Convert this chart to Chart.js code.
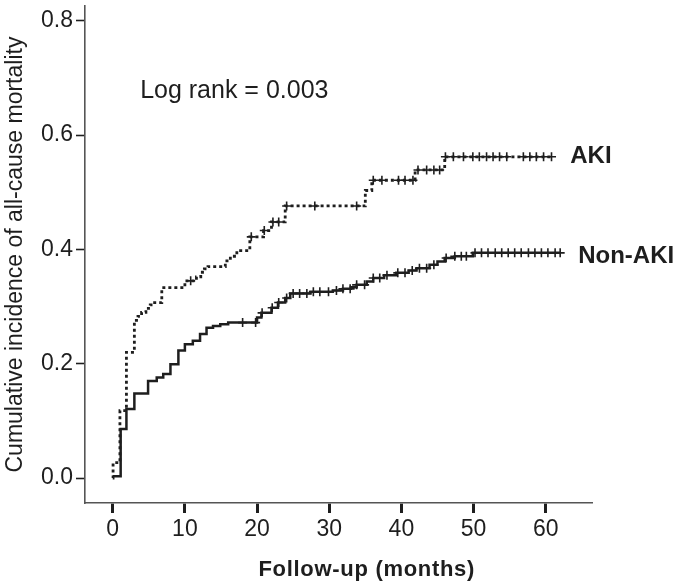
<!DOCTYPE html>
<html>
<head>
<meta charset="utf-8">
<script src="https://cdn.jsdelivr.net/npm/chart.js@4/dist/chart.umd.min.js"></script>
<style>
  html, body { margin: 0; padding: 0; background: #fff; }
</style>
</head>
<body>
<canvas id="km" width="685" height="585"></canvas>
<script>
// tick labels
const X_TICKS = [0, 10, 20, 30, 40, 50, 60];
const Y_TICKS = [0, 0.2, 0.4, 0.6, 0.8];

// AKI: event times (months) and cumulative incidence after each step
const AKI_TIME = [0, 0.05, 1.0, 1.9, 3.0, 3.5, 4.0, 4.6, 5.2, 5.6, 6.8, 10.0, 11.6, 12.2, 12.7, 13.2, 15.6, 16.3, 17.2, 19.0, 20.9, 22.0, 23.9, 35.0, 35.9, 41.9, 46.0, 61.0];
const AKI_CUM  = [0, 0.027, 0.118, 0.220, 0.276, 0.283, 0.290, 0.297, 0.303, 0.307, 0.333, 0.345, 0.352, 0.360, 0.366, 0.370, 0.380, 0.388, 0.398, 0.422, 0.433, 0.448, 0.476, 0.503, 0.521, 0.539, 0.562, 0.562];
const AKI_CENSOR = [10.8, 19.2, 21.0, 22.2, 23.0, 24.1, 28.0, 33.8, 36.1, 37.3, 39.6, 40.5, 41.6, 42.3, 43.5, 44.5, 45.3, 46.1, 47.2, 48.6, 49.9, 50.8, 51.8, 52.7, 53.6, 54.6, 56.9, 57.8, 58.7, 59.7, 60.8];

// Non-AKI
const NON_TIME = [0, 1.1, 1.9, 3.0, 4.9, 6.1, 7.0, 8.0, 9.1, 10.0, 11.1, 12.1, 13.0, 13.9, 14.9, 16.0, 20.0, 20.6, 22.0, 22.9, 23.9, 24.6, 27.4, 30.5, 31.9, 33.0, 33.8, 35.2, 36.1, 37.6, 39.3, 41.0, 42.1, 43.9, 45.0, 46.0, 47.4, 49.9, 62.0];
const NON_CUM  = [0.003, 0.086, 0.121, 0.148, 0.170, 0.176, 0.182, 0.199, 0.223, 0.234, 0.240, 0.252, 0.263, 0.266, 0.269, 0.272, 0.281, 0.289, 0.298, 0.307, 0.315, 0.323, 0.326, 0.328, 0.331, 0.334, 0.338, 0.344, 0.350, 0.355, 0.359, 0.363, 0.367, 0.373, 0.379, 0.385, 0.388, 0.394, 0.394];
const NON_CENSOR = [18.0, 19.8, 20.7, 22.1, 23.0, 24.1, 25.0, 25.9, 26.9, 27.8, 28.7, 29.9, 31.0, 31.9, 32.9, 33.8, 34.9, 36.1, 37.0, 38.0, 39.5, 40.5, 41.5, 42.5, 43.5, 44.5, 46.2, 47.4, 48.3, 49.0, 50.2, 51.1, 52.0, 53.0, 53.9, 54.8, 55.7, 56.6, 57.6, 58.5, 59.4, 60.3, 61.3, 62.0];

const INK = '#1e1e1e';
const FONT = '"Liberation Sans", Arial, sans-serif';

function stepAt(times, vals, t){
  let v = vals[0];
  for (let i = 0; i < times.length; i++) if (times[i] <= t) v = vals[i];
  return v;
}
function curve(times, vals){ return times.map((t, i) => ({ x: t, y: vals[i] })); }
function marks(censor, times, vals){ return censor.map(t => ({ x: t, y: stepAt(times, vals, t) })); }

const texts = {
  id: 'texts',
  afterDraw(chart){
    const { ctx, scales: { x, y } } = chart;
    ctx.save();
    ctx.fillStyle = INK;
    ctx.textBaseline = 'alphabetic';
    ctx.textAlign = 'left';
    ctx.font = `25px ${FONT}`;
    ctx.fillText('Log rank = 0.003', x.getPixelForValue(3.8), y.getPixelForValue(0.665));
    ctx.font = `bold 24px ${FONT}`;
    ctx.fillText('AKI', x.getPixelForValue(63.4), y.getPixelForValue(0.552));
    ctx.fillText('Non-AKI', x.getPixelForValue(64.5), y.getPixelForValue(0.376));
    ctx.font = `bold 22px ${FONT}`;
    ctx.letterSpacing = '0.7px';
    ctx.textAlign = 'center';
    ctx.fillText('Follow-up (months)', x.getPixelForValue(35.2), 576);
    ctx.restore();
  }
};

const tickFont = { family: FONT, size: 23 };

new Chart(document.getElementById('km'), {
  type: 'line',
  data: {
    datasets: [
      {
        label: 'AKI',
        data: curve(AKI_TIME, AKI_CUM),
        stepped: true,
        borderColor: INK,
        borderWidth: 2.8,
        borderDash: [3, 3],
        pointRadius: 0,
        fill: false,
      },
      {
        label: 'Non-AKI',
        data: curve(NON_TIME, NON_CUM),
        stepped: true,
        borderColor: INK,
        borderWidth: 2.5,
        pointRadius: 0,
        fill: false,
      },
      {
        type: 'scatter',
        label: 'AKI censored',
        data: marks(AKI_CENSOR, AKI_TIME, AKI_CUM),
        showLine: false,
        pointStyle: 'cross',
        pointRadius: 4.5,
        borderColor: INK,
        borderWidth: 1.6,
      },
      {
        type: 'scatter',
        label: 'Non-AKI censored',
        data: marks(NON_CENSOR, NON_TIME, NON_CUM),
        showLine: false,
        pointStyle: 'cross',
        pointRadius: 4.5,
        borderColor: INK,
        borderWidth: 1.6,
      },
    ],
  },
  options: {
    responsive: false,
    animation: false,
    devicePixelRatio: 1,
    layout: { padding: { top: 5, right: 93, bottom: 0, left: 0 } },
    plugins: { legend: { display: false }, tooltip: { enabled: false } },
    scales: {
      x: {
        type: 'linear',
        min: -3.84,
        max: 66.41,
        afterBuildTicks: s => { s.ticks = X_TICKS.map(v => ({ value: v })); },
        afterFit: s => { s.height = 82; s.paddingLeft = 0; s.paddingRight = 0; },
        ticks: { font: tickFont, color: INK, padding: 3, maxRotation: 0, autoSkip: false },
        grid: { drawOnChartArea: false, drawTicks: true, tickLength: 10, tickWidth: 3, tickColor: INK },
        border: { display: true, color: '#555', width: 1.6 },
      },
      y: {
        type: 'linear',
        min: -0.0436,
        max: 0.8256,
        afterBuildTicks: s => { s.ticks = Y_TICKS.map(v => ({ value: v })); },
        afterFit: s => { s.width = 85; s.paddingTop = 0; s.paddingBottom = 0; },
        ticks: { font: tickFont, color: INK, padding: 3, callback: v => Number(v).toFixed(1) },
        grid: { drawOnChartArea: false, drawTicks: true, tickLength: 9, tickWidth: 1.6, tickColor: INK },
        border: { display: true, color: '#555', width: 1.6 },
        title: {
          display: true,
          text: 'Cumulative incidence of all-cause mortality',
          font: { family: FONT, size: 23 },
          color: INK,
          padding: { top: 2, bottom: 0 },
        },
      },
    },
  },
  plugins: [texts],
});
</script>
</body>
</html>
